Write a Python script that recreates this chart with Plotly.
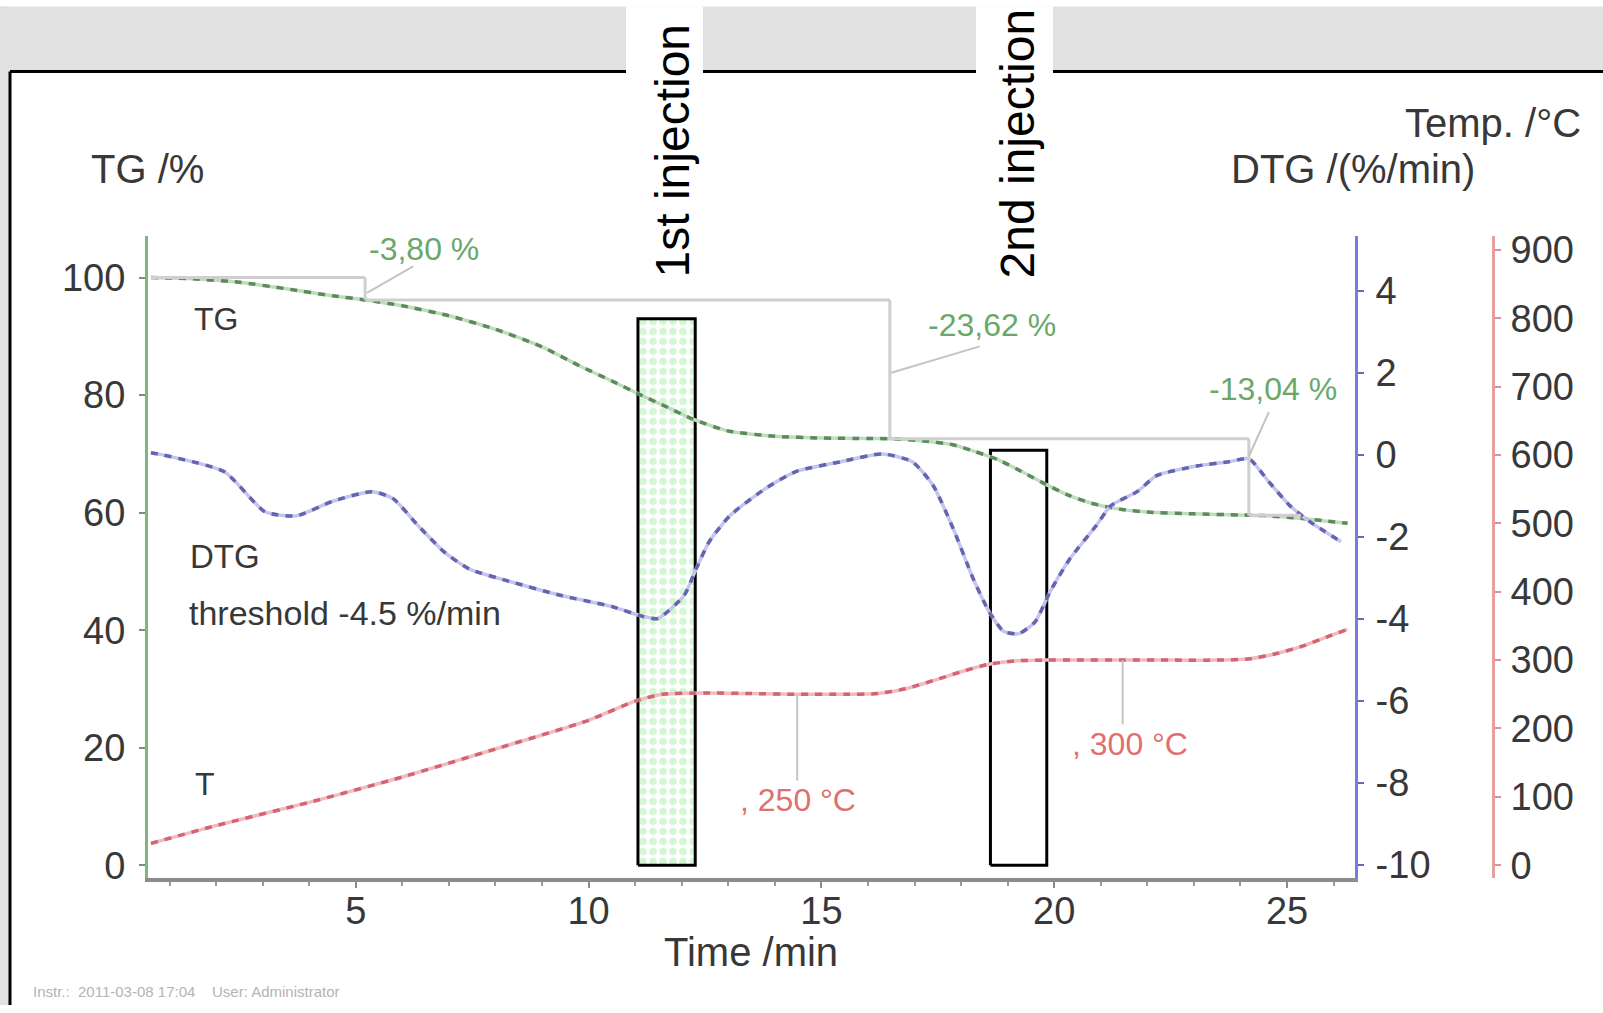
import plotly.graph_objects as go

W, H = 1603, 1013

# ---------------------------------------------------------------- data ----
# TG curve: time /min -> mass /%
tg_time = [0.60, 1.5, 2.5, 3.5, 4.5, 5.2, 6.0, 7.0, 8.0, 9.0, 9.8, 10.5, 11.1,
           11.7, 12.24, 13.0, 14.0, 15.0, 16.0, 16.5, 17.2, 17.8, 18.3, 18.8,
           19.3, 19.8, 20.3, 20.8, 21.4, 22.0, 23.0, 24.0, 24.5, 25.2, 25.8, 26.3]
tg_pct = [100.0, 99.8, 99.2, 98.1, 96.9, 96.2, 95.2, 93.5, 91.2, 88.2, 85.0, 82.4,
          80.1, 77.9, 75.9, 73.9, 73.0, 72.7, 72.6, 72.58, 72.2, 71.6, 70.4, 69.0,
          67.0, 64.9, 63.0, 61.6, 60.6, 60.1, 59.8, 59.6, 59.5, 59.1, 58.6, 58.2]

# DTG curve: time /min -> rate /(%/min)
dtg_time = [0.60, 0.75, 2.17, 3.05, 3.72, 4.49, 5.35, 5.80, 6.34, 6.89, 7.43, 8.31,
            9.41, 10.5, 11.17, 11.49, 12.05, 12.31, 12.59, 13.03, 13.79, 14.45,
            15.42, 16.3, 16.95, 17.4, 17.83, 18.26, 18.6, 18.92, 19.24, 19.59,
            19.91, 20.34, 20.9, 21.22, 21.78, 22.2, 23.09, 23.75, 24.18, 24.61,
            25.06, 25.49, 26.16]
dtg_rate = [0.05, 0.02, -0.41, -1.39, -1.49, -1.14, -0.90, -1.07, -1.73, -2.36,
            -2.78, -3.09, -3.43, -3.70, -3.94, -3.99, -3.43, -2.78, -2.12, -1.49,
            -0.83, -0.41, -0.17, 0.02, -0.17, -0.75, -1.80, -3.02, -3.82, -4.31,
            -4.36, -4.07, -3.34, -2.53, -1.73, -1.24, -0.90, -0.51, -0.27, -0.17,
            -0.10, -0.66, -1.24, -1.63, -2.12]

# Temperature curve: time /min -> T /°C
t_time = [0.6, 2.0, 4.0, 6.0, 8.0, 10.0, 11.0, 11.6, 12.5, 13.5, 14.5, 15.5, 16.2,
          16.8, 17.4, 18.0, 18.6, 19.2, 19.8, 20.5, 21.5, 22.5, 23.5, 24.2, 24.8,
          25.4, 25.9, 26.3]
t_degc = [32, 58, 92, 129, 170, 212, 240, 250, 252, 251, 250, 250, 251, 258, 270,
          283, 294, 299, 300, 300, 300, 300, 300, 302, 310, 322, 335, 345]

# Mass-loss steps evaluated on the TG curve
step_losses = [3.80, 23.62, 13.04]        # %
step_times = [5.2, 16.47, 24.18]          # min, where each step closes

# Temperature plateaus marked on the T curve
plateau_temps = [250, 300]
plateau_times = [14.48, 21.47]

# Injection windows (min) and their heights on the TG scale
inj_windows = [(11.06, 12.29), (18.63, 19.84)]
inj_tops = [93.0, 70.6]
inj_labels = ["1st injection", "2nd injection"]

x_ticks = [5, 10, 15, 20, 25]
tg_ticks = list(range(0, 101, 20))
dtg_ticks = list(range(-10, 5, 2))
temp_ticks = list(range(0, 901, 100))

# ---------------------------------------------------------------- style ---
FONT = "Liberation Sans, Arial, sans-serif"
GREEN, GREEN_L = "#5a8c5a", "#c0dcc0"
BLUE, BLUE_L = "#6464b0", "#c4c4ee"
RED, RED_L = "#d46474", "#f2bcbc"
GRAY_TXT = "#383838"

# vertical placement of the page is slightly scaled by the viewer,
# so page positions are converted through this factor/offset
Y_SCALE, Y_OFF = 0.9855, 7.5


def fx(px):
    return px / W


def fy(py):
    return 1 - ((py - Y_OFF) / Y_SCALE) / H


fig = go.Figure()

# injection windows (drawn first so the curves run over them)
for i, ((a, b), top) in enumerate(zip(inj_windows, inj_tops)):
    box = dict(x=[a, b, b, a, a], y=[0, 0, top, top, 0], mode="lines",
               line=dict(color="black", width=3), fill="toself",
               hoverinfo="skip", showlegend=False)
    if i == 0:
        box["fillpattern"] = dict(shape=".", fgcolor="#a8eea8", bgcolor="white",
                                  size=10, solidity=0.45)
    else:
        box["fillcolor"] = "rgba(255,255,255,0)"
    fig.add_trace(go.Scatter(**box))


def dashed(x, y, dark, light, axis):
    fig.add_trace(go.Scatter(x=x, y=y, mode="lines", yaxis=axis, showlegend=False,
                             line=dict(color=light, width=3.5, shape="spline",
                                       smoothing=0.6), hoverinfo="skip"))
    fig.add_trace(go.Scatter(x=x, y=y, mode="lines", yaxis=axis, showlegend=False,
                             line=dict(color=dark, width=3.5, dash="7px,7px",
                                       shape="spline", smoothing=0.6),
                             hoverinfo="skip"))


dashed(t_time, t_degc, RED, RED_L, "y3")
dashed(dtg_time, dtg_rate, BLUE, BLUE_L, "y2")
dashed(tg_time, tg_pct, GREEN, GREEN_L, "y")

# mass-loss step construction
levels = [100.0]
for loss in step_losses:
    levels.append(round(levels[-1] - loss, 2))
shapes = []
step_col = "#cfcfcf"
x_prev = tg_time[0]
for k, t in enumerate(step_times):
    shapes.append(dict(type="line", xref="x", yref="y", x0=x_prev, x1=t,
                       y0=levels[k], y1=levels[k], line=dict(color=step_col, width=3)))
    shapes.append(dict(type="line", xref="x", yref="y", x0=t, x1=t,
                       y0=levels[k], y1=levels[k + 1],
                       line=dict(color=step_col, width=3)))
    x_prev = t
shapes.append(dict(type="line", xref="x", yref="y", x0=step_times[-1], x1=25.3,
                   y0=levels[-1], y1=levels[-1], line=dict(color=step_col, width=3)))

# leaders from each step to its label
step_labels = [(6.46, 104.8), (18.66, 92.0), (24.7, 81.0)]
leader_start = [(5.24, 97.4), (16.5, 83.8), (24.18, 69.6)]
leader_end = [(6.23, 101.9), (18.4, 88.3), (24.61, 77.1)]
for (x0, y0), (x1, y1) in zip(leader_start, leader_end):
    shapes.append(dict(type="line", xref="x", yref="y", x0=x0, y0=y0, x1=x1, y1=y1,
                       line=dict(color="#c4c4c4", width=2)))

# leaders for the temperature plateaus
plateau_label_pos = [(14.5, 96), (21.63, 178)]
for t, T, (lx, ly) in zip(plateau_times, plateau_temps, plateau_label_pos):
    shapes.append(dict(type="line", xref="x", yref="y3", x0=t, x1=t, y0=T,
                       y1=ly + 28, line=dict(color="#c4c4c4", width=2)))

# page frame: grey band on top and left, black panel border
band = "#e1e1e1"
shapes.append(dict(type="rect", xref="paper", yref="paper", x0=0, x1=1,
                   y0=fy(72), y1=fy(7), fillcolor=band, line_width=0, layer="below"))
shapes.append(dict(type="rect", xref="paper", yref="paper", x0=0, x1=fx(10),
                   y0=0, y1=fy(7), fillcolor=band, line_width=0, layer="below"))
gaps = [(626, 703), (976, 1053)]
for g0, g1 in gaps:
    shapes.append(dict(type="rect", xref="paper", yref="paper", x0=fx(g0), x1=fx(g1),
                       y0=fy(74), y1=fy(7), fillcolor="white", line_width=0,
                       layer="below"))
seg = [(10, 626), (703, 976), (1053, W)]
for s0, s1 in seg:
    shapes.append(dict(type="line", xref="paper", yref="paper", x0=fx(s0), x1=fx(s1),
                       y0=fy(72), y1=fy(72), line=dict(color="black", width=3)))
shapes.append(dict(type="line", xref="paper", yref="paper", x0=fx(10), x1=fx(10),
                   y0=0, y1=fy(72), line=dict(color="black", width=3)))

annotations = []


def text(x, y, s, size=32, color=GRAY_TXT, xref="x", yref="y", xanchor="center",
         **kw):
    annotations.append(dict(x=x, y=y, xref=xref, yref=yref, text=s, showarrow=False,
                            xanchor=xanchor, yanchor="middle",
                            font=dict(family=FONT, size=size, color=color), **kw))


# step labels
for loss, (lx, ly) in zip(step_losses, step_labels):
    text(lx, ly, f"-{loss:.2f} %".replace(".", ","), color="#6aa86a")
# plateau labels
for T, (lx, ly) in zip(plateau_temps, plateau_label_pos):
    text(lx, ly, f", {T} °C", color="#e07070", yref="y3")

# curve names
text(2.0, 92.9, "TG")
text(2.19, 52.6, "DTG", size=33)
text(1.37, 43.0, "threshold -4.5 %/min", size=34, xanchor="left")
text(1.76, 13.8, "T")

# axis titles
text(fx(147), fy(170), "TG /%", size=40, xref="paper", yref="paper")
text(fx(1583), fy(124), "Temp. /°C", size=40, xref="paper", yref="paper",
     xanchor="right")
text(fx(1353), fy(170), "DTG /(%/min)", size=40, xref="paper", yref="paper")
text(fx(751), fy(953), "Time /min", size=40, xref="paper", yref="paper")
text(fx(31), fy(992), "Instr.:  2011-03-08 17:04    User: Administrator", size=15,
     color="#b4b4b4", xref="paper", yref="paper", xanchor="left")

# injection labels in the header band
for lbl, cx, cy in zip(inj_labels, [672, 1017], [152, 144]):
    text(fx(cx), fy(cy), lbl, size=48, color="black", xref="paper", yref="paper",
         textangle=-90)

tickfont = dict(family=FONT, size=38, color=GRAY_TXT)


def labels(vals):
    return [str(v).replace("\u2212", "-") for v in vals]


fig.update_layout(
    width=W, height=H, margin=dict(l=0, r=0, t=0, b=0),
    paper_bgcolor="white", plot_bgcolor="white",
    shapes=shapes, annotations=annotations, showlegend=False,
    xaxis=dict(domain=[fx(148), fx(1355)], range=[0.537, 26.46],
               tickvals=x_ticks, ticktext=labels(x_ticks), ticks="outside",
               ticklen=6, tickwidth=2, tickcolor="#8c8c8c", showline=True,
               linecolor="#8c8c8c", linewidth=4, showgrid=False, zeroline=False,
               tickfont=tickfont, ticklabelstandoff=-10,
               minor=dict(dtick=1, ticks="outside", ticklen=4,
                          tickcolor="#9a9a9a", showgrid=False)),
    yaxis=dict(domain=[fy(879), fy(237)], range=[-2.2, 107.0], tickvals=tg_ticks,
               ticktext=labels(tg_ticks), ticks="outside", ticklen=6, tickwidth=2,
               tickcolor="#6a9a6a", showline=True, linecolor="#7cb87c", linewidth=3,
               showgrid=False, zeroline=False, tickfont=tickfont,
               ticklabelstandoff=6),
    yaxis2=dict(overlaying="y", anchor="x", side="right", range=[-10.32, 5.32],
                tickvals=dtg_ticks, ticktext=labels(dtg_ticks), ticks="outside",
                ticklen=6, tickwidth=2, tickcolor="#6a6ab4", showline=True,
                linecolor="#7a7ae0", linewidth=3, showgrid=False, zeroline=False,
                tickfont=tickfont, ticklabelstandoff=4),
    yaxis3=dict(overlaying="y", anchor="free", position=fx(1493), side="right",
                range=[-19, 919.6], tickvals=temp_ticks, ticktext=labels(temp_ticks),
                ticks="outside", ticklen=6, tickwidth=2, tickcolor="#e09090",
                showline=True, linecolor="#e6a0a0", linewidth=3, showgrid=False,
                zeroline=False, tickfont=tickfont, ticklabelstandoff=2),
)

fig.write_html("out.html")
